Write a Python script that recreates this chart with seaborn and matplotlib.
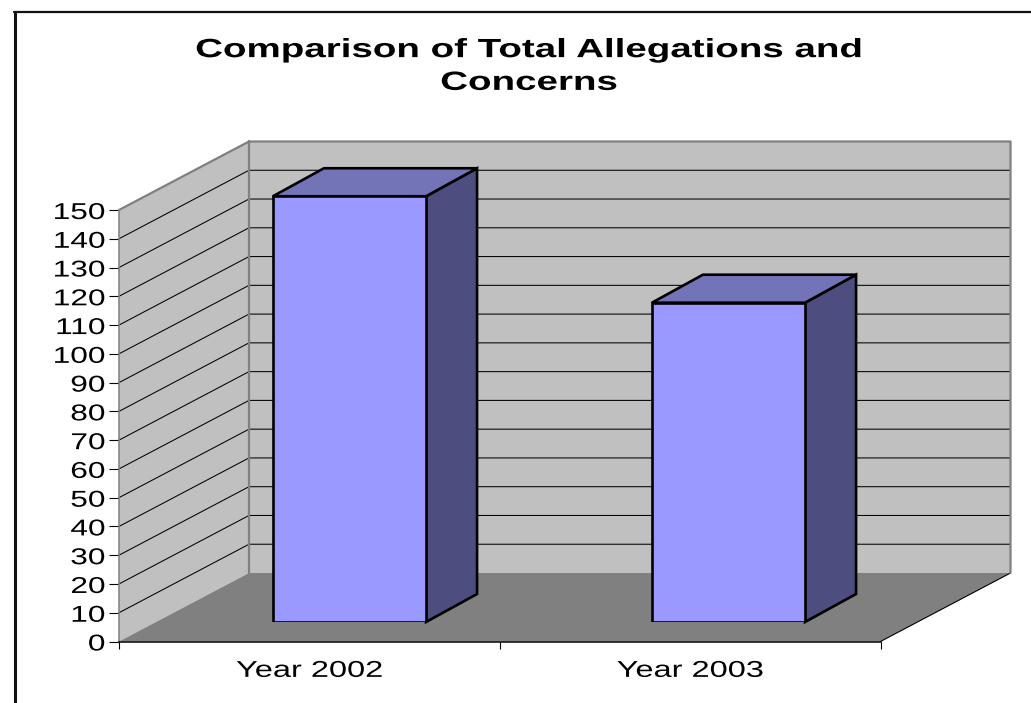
import numpy as np
import pandas as pd
import matplotlib
matplotlib.use('Agg')
import matplotlib.pyplot as plt
import matplotlib.patheffects as path_effects
from matplotlib.lines import Line2D
from matplotlib.transforms import Affine2D
import seaborn as sns

# values
years = ['Year 2002', 'Year 2003']
totals = [148, 111]
value_ticks = list(range(0, 151, 10))

W, H = 1031, 703

# colours of the old 3D column style
WALL = '#C0C0C0'
WALL_EDGE = '#808080'
FLOOR = '#808080'
FRONT = '#9999FF'
TOP = '#7373B8'
SIDE = '#4D4D80'


class StretchX(path_effects.AbstractPathEffect):
    """The reference text is wider than Arial, so widen the glyphs around an anchor."""

    def __init__(self, factor, anchor='center'):
        super().__init__()
        self.factor = factor
        self.anchor = anchor

    def draw_path(self, renderer, gc, tpath, affine, rgbFace=None):
        box = tpath.get_extents()
        a = box.x1 if self.anchor == 'right' else (box.x0 + box.x1) / 2
        stretch = Affine2D().translate(-a, 0).scale(self.factor, 1).translate(a, 0)
        renderer.draw_path(gc, tpath, stretch + affine, rgbFace)


def pixel_box(left, top, right, bottom):
    return [left / W, 1 - bottom / H, (right - left) / W, (bottom - top) / H]


sns.set_style('white')
plt.rcParams['font.family'] = ['Liberation Sans', 'DejaVu Sans']
plt.rcParams['text.color'] = 'black'
plt.rcParams['xtick.labelcolor'] = 'black'
plt.rcParams['ytick.labelcolor'] = 'black'

fig = plt.figure(figsize=(W / 100, H / 100), dpi=100, facecolor='white')

# axes on the front plane of the box, walls go backwards from it
ax = fig.add_axes(pixel_box(119, 210, 880.5, 641.5), facecolor='none')
ax.set_xlim(-0.5, 1.5)
ax.set_ylim(0, 150)

# depth of the box in data units
depth_x = 130 / 380.75
depth_y = 68.5 / (431.5 / 150)
x0, x1 = -0.5, 1.5
y1 = 150

ax.fill([x0, x0 + depth_x, x0 + depth_x, x0], [0, depth_y, y1 + depth_y, y1],
        facecolor=WALL, edgecolor='none', clip_on=False, zorder=1)
ax.fill([x0 + depth_x, x1 + depth_x, x1 + depth_x, x0 + depth_x],
        [depth_y, depth_y, y1 + depth_y, y1 + depth_y],
        facecolor=WALL, edgecolor='none', clip_on=False, zorder=1)
ax.fill([x0, x1, x1 + depth_x, x0 + depth_x], [0, 0, depth_y, depth_y],
        facecolor=FLOOR, edgecolor='none', clip_on=False, zorder=2)
ax.plot([x1, x1 + depth_x], [0, depth_y], color='black', lw=0.8, clip_on=False, zorder=3)

# gridlines run along side wall and back wall
for v in value_ticks[1:-1]:
    ax.plot([x0, x0 + depth_x, x1 + depth_x], [v, v + depth_y, v + depth_y],
            color='black', lw=0.75, clip_on=False, zorder=2)

# grey outline of the walls, over the gridlines
ax.plot([x0, x0 + depth_x, x1 + depth_x, x1 + depth_x],
        [y1, y1 + depth_y, y1 + depth_y, depth_y],
        color=WALL_EDGE, lw=1.6, clip_on=False, zorder=3)
ax.plot([x0 + depth_x, x0 + depth_x], [depth_y, y1 + depth_y],
        color=WALL_EDGE, lw=1.6, clip_on=False, zorder=3)

ax.set_yticks(value_ticks)
ax.set_xticks([-0.5, 0.5, 1.5])
ax.set_xticklabels([])
ax.set_xticks([0, 1], minor=True)
ax.set_xticklabels(years, minor=True)
ax.tick_params(axis='x', which='major', length=5, width=0.8, color='black', bottom=True)
ax.tick_params(axis='x', which='minor', length=0, pad=12.5, labelsize=16.5)
ax.tick_params(axis='y', length=7, width=0.8, color='black', left=True, pad=3, labelsize=16.5)
ax.set_xlabel('')
for label in ax.get_xticklabels(minor=True):
    label.set_path_effects([StretchX(1.42)])
for label in ax.get_yticklabels():
    label.set_path_effects([StretchX(1.38, 'right')])
for name in ['top', 'right']:
    ax.spines[name].set_visible(False)
ax.spines['left'].set_color(WALL_EDGE)
ax.spines['left'].set_linewidth(1.1)
ax.spines['left'].set_zorder(4)
ax.spines['bottom'].set_color('black')
ax.spines['bottom'].set_linewidth(1.1)
ax.spines['bottom'].set_zorder(4)

# bars stand a little way into the box, so they get their own shifted axes
ax_bars = fig.add_axes(pixel_box(160, 190.5, 918, 622), facecolor='none', zorder=3)
df = pd.DataFrame({'year': years, 'total': totals})
sns.barplot(data=df, x='year', y='total', color=FRONT, saturation=1, width=0.404,
            edgecolor='black', linewidth=1.9, errorbar=None, ax=ax_bars, zorder=5)
ax_bars.set_xlim(-0.5, 1.5)
ax_bars.set_ylim(0, 150)
ax_bars.axis('off')

# side and top faces worked out from the drawn bars
bar_dx = 51 / 379
bar_dy = 28 / (431.5 / 150)
for patch in ax_bars.patches:
    left, bottom = patch.get_x(), patch.get_y()
    right = left + patch.get_width()
    top = bottom + patch.get_height()
    ax_bars.fill([right, right + bar_dx, right + bar_dx, right],
                 [bottom, bottom + bar_dy, top + bar_dy, top],
                 facecolor=SIDE, edgecolor='black', linewidth=1.9,
                 joinstyle='miter', clip_on=False, zorder=4)
    ax_bars.fill([left, left + bar_dx, right + bar_dx, right],
                 [top, top + bar_dy, top + bar_dy, top],
                 facecolor=TOP, edgecolor='black', linewidth=1.9,
                 joinstyle='miter', clip_on=False, zorder=4)

fig.text(529 / W, 1 - 66.5 / H, 'Comparison of Total Allegations and\nConcerns',
         ha='center', va='center', fontsize=19, fontweight='bold', linespacing=1.46,
         color='black', path_effects=[StretchX(1.46)])

# chart frame, only left and top fall inside the picture
fig.add_artist(Line2D([14.5 / W, 14.5 / W], [0, 1 - 12 / H], color='#111111', lw=2.2))
fig.add_artist(Line2D([13.5 / W, 1], [1 - 12 / H, 1 - 12 / H], color='#111111', lw=1.6))

fig.savefig('out.png', dpi=100)
